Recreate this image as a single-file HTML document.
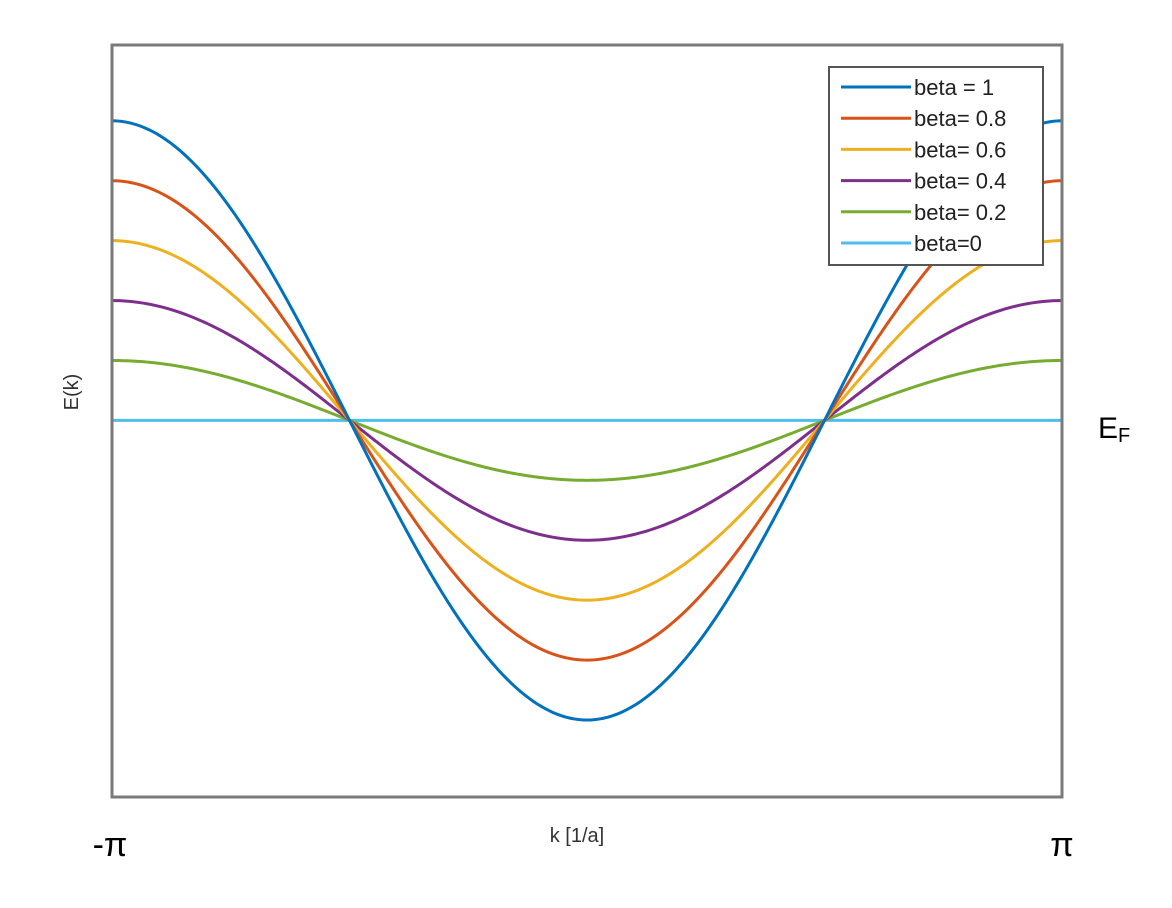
<!DOCTYPE html>
<html><head><meta charset="utf-8">
<style>
body{margin:0;background:#fff;}
svg{display:block;font-family:"Liberation Sans",Arial,sans-serif;}
</style></head>
<body>
<svg id="chart" width="1172" height="908" viewBox="0 0 1172 908">
<rect x="0" y="0" width="1172" height="908" fill="#fff"/>
<g id="plot"></g>
<rect x="112" y="45" width="950" height="752" fill="none" stroke="#7a7a7a" stroke-width="3"/>
<text transform="translate(78,392) rotate(-90)" text-anchor="middle" font-size="20" fill="#333">E(k)</text>
<text x="577" y="842" text-anchor="middle" font-size="20" fill="#333">k [1/a]</text>
<text x="110" y="856" text-anchor="middle" font-size="34" fill="#000">-π</text>
<text x="1062" y="856" text-anchor="middle" font-size="34" fill="#000">π</text>
<text x="1098" y="438" font-size="30" fill="#000">E<tspan font-size="20" dy="4">F</tspan></text>
<g id="legend"></g>
</svg>
<script>
const betas = [1, 0.8, 0.6, 0.4, 0.2, 0];
const labels = ["beta = 1", "beta= 0.8", "beta= 0.6", "beta= 0.4", "beta= 0.2", "beta=0"];
const colors = ["#0072BD", "#D95319", "#EDB120", "#7E2F8E", "#77AC30", "#4DBEEE"];
const xDomain = [-Math.PI, Math.PI];
const yDomain = [-1.257, 1.253];

const NS = "http://www.w3.org/2000/svg";
const L = 112, R = 1062, T = 45, B = 797;
function xs(k){ return L + (k - xDomain[0]) / (xDomain[1] - xDomain[0]) * (R - L); }
function ys(e){ return B - (e - yDomain[0]) / (yDomain[1] - yDomain[0]) * (B - T); }

const plot = document.getElementById('plot');
const order = [5,4,3,2,1,0];
order.forEach(i => {
  const b = betas[i];
  let d = "";
  const N = 300;
  for (let j = 0; j <= N; j++) {
    const k = xDomain[0] + (xDomain[1] - xDomain[0]) * j / N;
    const e = -b * Math.cos(k);
    d += (j ? "L" : "M") + xs(k).toFixed(2) + "," + ys(e).toFixed(2);
  }
  const p = document.createElementNS(NS, 'path');
  
  
  p.setAttribute('d', d);
  p.setAttribute('fill', 'none');
  p.setAttribute('stroke', colors[i]);
  p.setAttribute('stroke-width', '3');
  plot.appendChild(p);
});

const lg = document.getElementById('legend');
const box = document.createElementNS(NS, 'rect');


box.setAttribute('x', 829); box.setAttribute('y', 67);
box.setAttribute('width', 214); box.setAttribute('height', 198);
box.setAttribute('fill', '#fff'); box.setAttribute('stroke', '#555'); box.setAttribute('stroke-width', '2');
lg.appendChild(box);
labels.forEach((lab, i) => {
  const y = 87 + i * 31.2;
  const ln = document.createElementNS(NS, 'line');
  
  
  ln.setAttribute('x1', 841); ln.setAttribute('x2', 911);
  ln.setAttribute('y1', y); ln.setAttribute('y2', y);
  ln.setAttribute('stroke', colors[i]); ln.setAttribute('stroke-width', '3');
  lg.appendChild(ln);
  const t = document.createElementNS(NS, 'text');
  
  
  t.setAttribute('x', 914); t.setAttribute('y', y + 8);
  t.setAttribute('font-size', '22'); t.setAttribute('fill', '#222');
  t.textContent = lab;
  lg.appendChild(t);
});
</script>
</body></html>
